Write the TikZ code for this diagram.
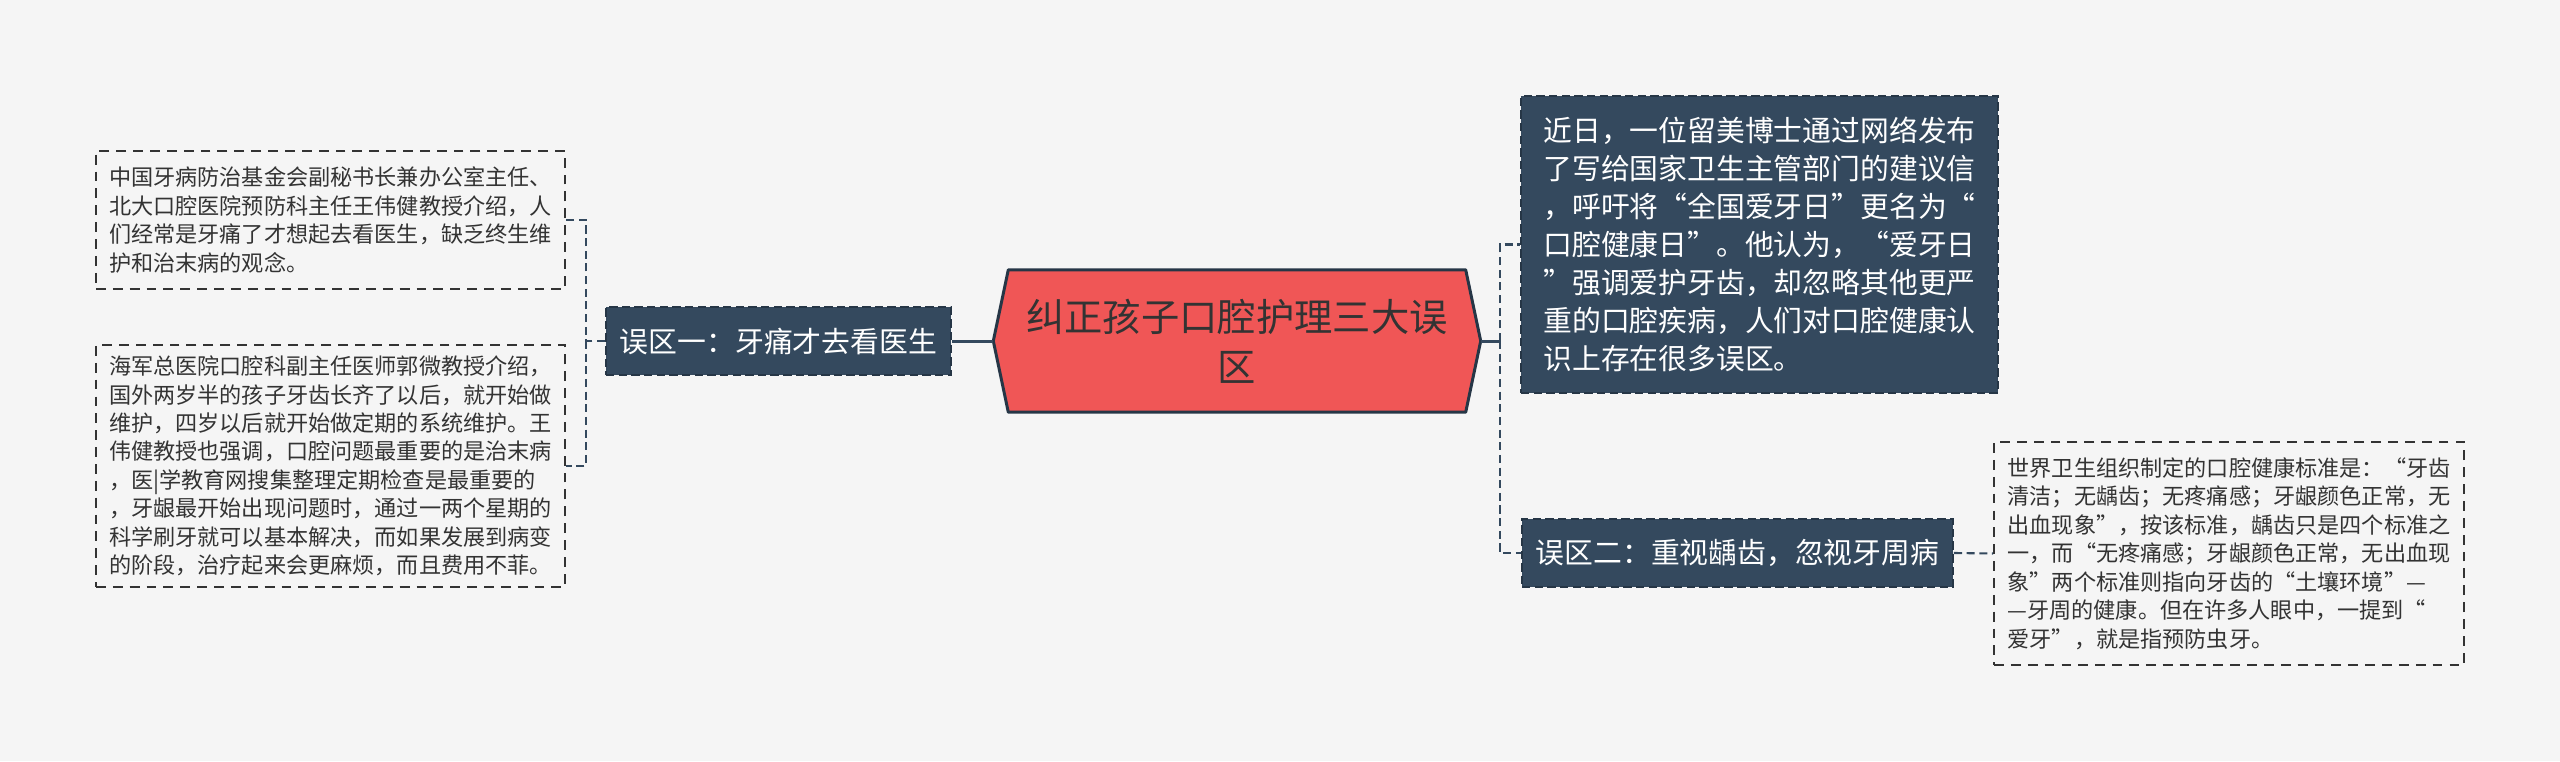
\documentclass[tikz,border=0pt]{standalone}
\usepackage{fontspec}
\setmainfont{Noto Sans CJK SC}
\usetikzlibrary{calc,backgrounds}
\definecolor{pagebg}{RGB}{245,245,245}
\definecolor{topicblue}{RGB}{52,73,94}
\definecolor{topicedge}{RGB}{38,54,70}
\definecolor{rootred}{RGB}{240,86,86}
\definecolor{leaftext}{RGB}{51,51,51}
\newcommand{\leaffont}{\fontsize{6.3pt}{8.1pt}\selectfont}
\newcommand{\topicfont}{\fontsize{8.2pt}{10.8pt}\selectfont}
\newcommand{\rootfont}{\fontsize{10.9pt}{14.2pt}\selectfont}

\begin{document}
\begin{tikzpicture}[
    leafbox/.style={draw=leaftext, dash pattern=on 2.8pt off 2pt, line width=0.55pt,
        text=leaftext, align=left, inner sep=0pt, font=\leaffont},
    topicbox/.style={fill=topicblue, draw=topicedge, dash pattern=on 2.4pt off 1.2pt,
        line width=0.55pt, text=white, align=left, inner sep=0pt, font=\topicfont},
    rootbox/.style={text=black!80, align=center, inner sep=0pt, font=\rootfont,
        minimum width=4.86cm, minimum height=1.41cm},
    linkline/.style={draw=topicblue, line width=0.6pt, dash pattern=on 2.3pt off 1.3pt},
    trunkline/.style={draw=topicblue, line width=0.85pt}
]
    \useasboundingbox (0,0) rectangle (25.6,7.61);
    \begin{scope}[on background layer]
        \fill[pagebg] (0,0) rectangle (25.6,7.61);
    \end{scope}

    % central topic
    \node[rootbox] (root) at (12.37,4.20) {纠正孩子口腔护理三大误\\区};
    \begin{scope}[on background layer]
        \draw[fill=rootred, draw=topicedge, line width=0.85pt, line join=round]
            (root.west) -- ($(root.north west)+(0.15,0)$) -- ($(root.north east)+(-0.15,0)$)
            -- (root.east) -- ($(root.south east)+(-0.15,0)$) -- ($(root.south west)+(0.15,0)$) -- cycle;
    \end{scope}

    % misconceptions
    \node[topicbox, minimum width=3.45cm, minimum height=0.68cm] (m1) at (7.785,4.20) {误区一：牙痛才去看医生};
    \node[topicbox, minimum width=4.31cm, minimum height=0.68cm] (m2) at (17.375,2.08) {误区二：重视龋齿，忽视牙周病};
    \node[topicbox, minimum width=4.77cm, minimum height=2.97cm] (r1) at (17.595,5.165) {近日，一位留美博士通过网络发布\\了写给国家卫生主管部门的建议信\\，呼吁将“全国爱牙日”更名为“\\口腔健康日”。他认为，“爱牙日\\”强调爱护牙齿，却忽略其他更严\\重的口腔疾病，人们对口腔健康认\\识上存在很多误区。};

    % details
    \node[leafbox, minimum width=4.69cm, minimum height=1.38cm] (l1) at (3.305,5.41) {中国牙病防治基金会副秘书长兼办公室主任、\\北大口腔医院预防科主任王伟健教授介绍，人\\们经常是牙痛了才想起去看医生，缺乏终生维\\护和治末病的观念。};
    \node[leafbox, minimum width=4.69cm, minimum height=2.42cm] (l2) at (3.305,2.95) {海军总医院口腔科副主任医师郭微教授介绍，\\国外两岁半的孩子牙齿长齐了以后，就开始做\\维护，四岁以后就开始做定期的系统维护。王\\伟健教授也强调，口腔问题最重要的是治末病\\，医|学教育网搜集整理定期检查是最重要的\\，牙龈最开始出现问题时，通过一两个星期的\\科学刷牙就可以基本解决，而如果发展到病变\\的阶段，治疗起来会更麻烦，而且费用不菲。};
    \node[leafbox, minimum width=4.70cm, minimum height=2.23cm] (r2) at (22.29,2.075) {世界卫生组织制定的口腔健康标准是：“牙齿\\清洁；无龋齿；无疼痛感；牙龈颜色正常，无\\出血现象”，按该标准，龋齿只是四个标准之\\一，而“无疼痛感；牙龈颜色正常，无出血现\\象”两个标准则指向牙齿的“土壤环境”—\\—牙周的健康。但在许多人眼中，一提到“\\爱牙”，就是指预防虫牙。};

    % connectors
    \coordinate (lj) at (5.86,4.20);
    \coordinate (rj) at (15.00,4.20);
    \draw[trunkline] (root.west) -- (m1.east);
    \draw[linkline] (m1.west) -- (lj) |- (l1.east);
    \draw[linkline] (lj) |- (l2.east);
    \draw[trunkline] (root.east) -- (rj);
    \draw[linkline] (rj) |- (r1.west);
    \draw[linkline] (rj) |- (m2.west);
    \draw[linkline] (m2.east) -- (r2.west);
\end{tikzpicture}
\end{document}
